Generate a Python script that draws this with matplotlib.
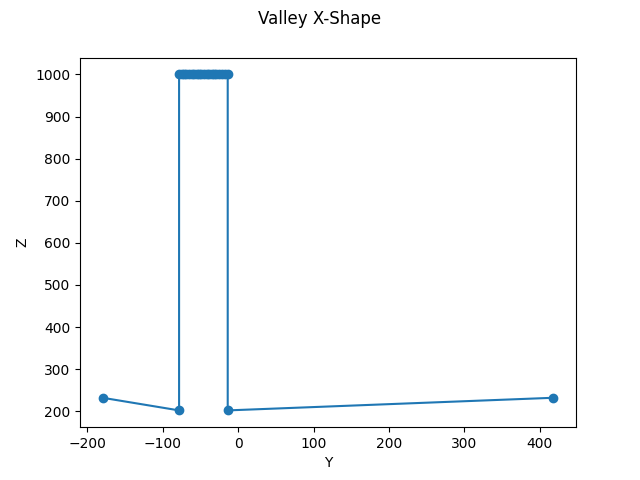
import matplotlib
matplotlib.use('Agg')
import matplotlib.pyplot as plt

# Valley cross section
y_values = [-180, -78.5, -78.5, -75, -72, -69, -65, -62, -59, -55, -52, -49, -45, -42,
            -39, -35, -32, -29, -25, -22, -18, -14, -14, 418]
z_values = [232, 202, 1000, 1000, 1000, 1000, 1000, 1000, 1000, 1000, 1000, 1000, 1000, 1000,
            1000, 1000, 1000, 1000, 1000, 1000, 1000, 1000, 202, 232]

fig, ax = plt.subplots()
ax.plot(y_values, z_values, marker='o')
ax.set_xlabel('Y')
ax.set_ylabel('Z')
fig.suptitle('Valley X-Shape')

fig.savefig('out.png')
